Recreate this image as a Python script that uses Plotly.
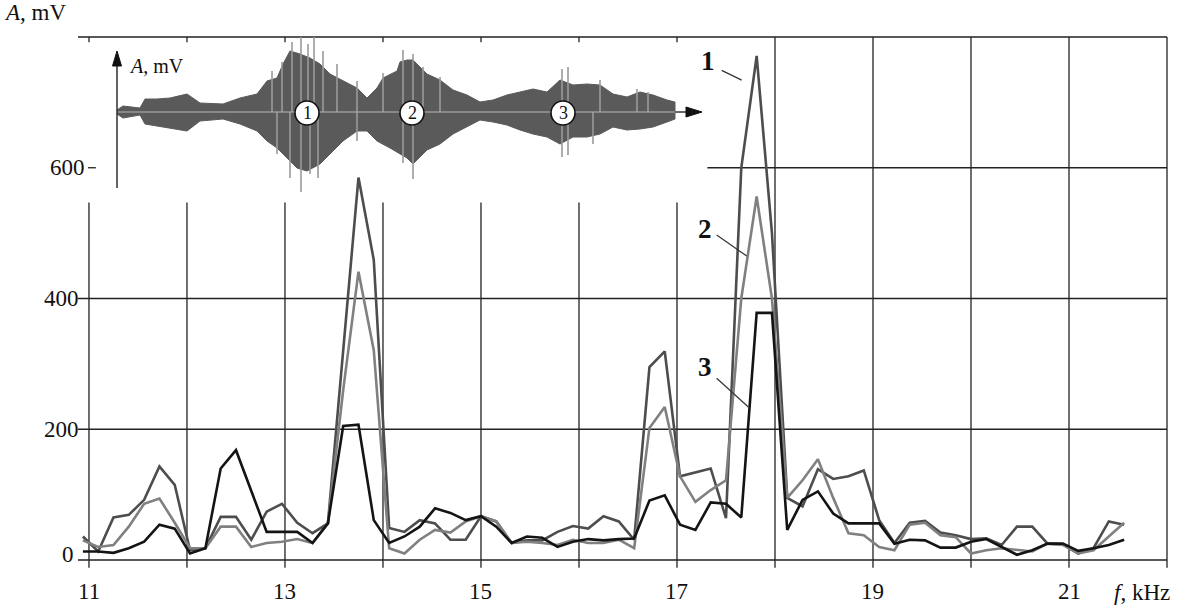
import plotly.graph_objects as go

# ---------------- data ----------------
freq_khz = [10.938, 11.094, 11.250, 11.406, 11.563, 11.719, 11.875, 12.031, 12.188, 12.344,
            12.500, 12.656, 12.813, 12.969, 13.125, 13.281, 13.438, 13.594, 13.750, 13.906,
            14.063, 14.219, 14.375, 14.531, 14.688, 14.844, 15.000, 15.156, 15.313, 15.469,
            15.625, 15.781, 15.938, 16.094, 16.250, 16.406, 16.563, 16.719, 16.875, 17.031,
            17.188, 17.344, 17.500, 17.656, 17.813, 17.969, 18.125, 18.281, 18.438, 18.594,
            18.750, 18.906, 19.063, 19.219, 19.375, 19.531, 19.688, 19.844, 20.000, 20.156,
            20.313, 20.469, 20.625, 20.781, 20.938, 21.094, 21.250, 21.406, 21.563]

amp_1 = [36, 13, 65, 69, 92, 143, 115, 15, 18, 66,
         66, 31, 74, 86, 57, 41, 56, 320, 585, 459,
         49, 43, 61, 56, 31, 31, 67, 59, 26, 30,
         30, 43, 52, 48, 67, 59, 31, 295, 319, 128,
         134, 140, 64, 600, 771, 500, 95, 82, 139, 124,
         128, 137, 61, 26, 57, 60, 42, 38, 32, 33,
         23, 51, 51, 25, 24, 10, 18, 59, 54]

amp_2 = [30, 20, 23, 51, 86, 94, 57, 18, 18, 51,
         51, 20, 26, 28, 32, 26, 56, 260, 441, 321,
         18, 10, 31, 46, 42, 59, 67, 59, 26, 28,
         26, 23, 31, 26, 26, 31, 18, 202, 234, 128,
         89, 107, 122, 400, 556, 400, 95, 122, 154, 95,
         41, 38, 20, 15, 54, 57, 38, 35, 10, 15,
         18, 15, 13, 25, 23, 10, 15, 36, 57]

amp_3 = [13, 13, 11, 18, 28, 54, 48, 10, 18, 140,
         168, 105, 43, 43, 43, 26, 56, 205, 207, 61,
         26, 36, 51, 79, 72, 61, 67, 51, 26, 36,
         34, 20, 28, 32, 30, 32, 33, 91, 99, 54,
         46, 88, 86, 65, 378, 378, 46, 92, 105, 71,
         56, 56, 56, 25, 31, 30, 19, 19, 28, 32,
         20, 8, 15, 25, 25, 14, 18, 23, 31]

x_tick_vals = [11, 13, 15, 17, 19, 21]
x_tick_text = ["11", "13", "15", "17", "19", "21"]
y_tick_vals = [0, 200, 400, 600]
y_tick_text = ["0", "200", "400", "600"]
series_names = ["1", "2", "3"]

# inset oscillogram envelope (time samples, amplitude above / below zero)
wave_up_t = [0, 6, 23, 28, 40, 53, 70, 83, 106, 123, 140, 150, 160, 166, 173, 183, 193,
             203, 213, 226, 240, 250, 260, 266, 280, 283, 290, 296, 310, 323, 336, 350,
             363, 376, 390, 403, 416, 430, 443, 456, 470, 483, 496, 510, 523, 536, 550, 558]
wave_up = [2, 6, 4, 13, 13, 14, 18, 9, 8, 14, 18, 31, 34, 48, 61, 58, 54,
           48, 38, 31, 24, 14, 24, 34, 41, 50, 52, 52, 38, 32, 22, 17,
           10, 12, 17, 20, 23, 20, 32, 27, 28, 27, 18, 15, 20, 17, 12, 10]
wave_dn_t = [0, 6, 23, 28, 40, 70, 83, 106, 123, 140, 150, 160, 170, 180, 190, 203,
             213, 226, 240, 250, 260, 273, 290, 296, 310, 323, 336, 350, 363, 376, 390,
             403, 416, 430, 443, 456, 470, 483, 496, 510, 523, 536, 550, 558]
wave_dn = [2, 6, 3, 12, 14, 19, 9, 7, 12, 19, 29, 36, 46, 56, 59, 52,
           42, 29, 19, 19, 29, 36, 46, 52, 38, 32, 22, 15, 8, 10, 13,
           18, 22, 25, 32, 25, 25, 22, 15, 18, 17, 15, 10, 7]
spike_t = [155, 160, 165, 173, 175, 184, 191, 193, 197, 201, 206, 220, 240, 266,
           286, 296, 306, 323, 445, 451, 476, 483, 520, 531]
spike_up = [41, 0, 50, 0, 70, 76, 68, 0, 80, 0, 61, 48, 31, 39,
            62, 58, 45, 35, 43, 45, 0, 32, 23, 20]
spike_dn = [0, 42, 0, 66, 0, 80, 0, 62, 0, 66, 0, 0, 29, 0,
            51, 67, 0, 0, 45, 43, 32, 0, 0, 0]
wave_marks_t = [190, 295, 446]
wave_marks = ["1", "2", "3"]

# ---------------- styling ----------------
X0, X1 = 10.888, 22.0
Y0, Y1 = 0, 800
SERIF = "Liberation Serif"
GRID = "#222222"
colors = ["#4d4d4d", "#808080", "#141414"]


def xp(f):
    return (f - X0) / (X1 - X0)


def yp(a):
    return (a - Y0) / (Y1 - Y0)


fig = go.Figure()

for name, amp, col in zip(series_names, [amp_1, amp_2, amp_3], colors):
    fig.add_trace(go.Scatter(x=freq_khz, y=amp, mode="lines", name=name,
                             line=dict(color=col, width=2.6), showlegend=False,
                             hoverinfo="skip"))

# inset waveform
poly_x = wave_up_t + wave_dn_t[::-1]
poly_y = wave_up + [-v for v in wave_dn[::-1]]
fig.add_trace(go.Scatter(x=poly_x, y=poly_y, mode="lines", fill="toself",
                         fillcolor="#5a5a5a", line=dict(color="#5a5a5a", width=1),
                         xaxis="x2", yaxis="y2", showlegend=False, hoverinfo="skip"))
sx, sy = [], []
for t, u, d in zip(spike_t, spike_up, spike_dn):
    sx += [t, t, None]
    sy += [-d, u, None]
fig.add_trace(go.Scatter(x=sx, y=sy, mode="lines", line=dict(color="#9a9a9a", width=1.6),
                         xaxis="x2", yaxis="y2", showlegend=False, hoverinfo="skip"))
fig.add_trace(go.Scatter(x=[wave_up_t[0], wave_up_t[-1]], y=[0, 0], mode="lines",
                         line=dict(color="#b5b5b5", width=1.2),
                         xaxis="x2", yaxis="y2", showlegend=False, hoverinfo="skip"))

shapes = []
# vertical grid lines
for f in range(11, 23):
    top = 800 if f >= 18 else 547
    shapes.append(dict(type="line", xref="paper", yref="paper", x0=xp(f), x1=xp(f),
                       y0=yp(-12), y1=yp(top), line=dict(color=GRID, width=1.3), layer="below"))
    if f < 18:
        shapes.append(dict(type="line", xref="paper", yref="paper", x0=xp(f), x1=xp(f),
                           y0=yp(792), y1=yp(800), line=dict(color=GRID, width=1.3), layer="below"))
# horizontal grid lines
for a in [0, 200, 400, 800]:
    shapes.append(dict(type="line", xref="paper", yref="paper", x0=0, x1=1,
                       y0=yp(a), y1=yp(a), line=dict(color=GRID, width=1.3), layer="below"))
shapes.append(dict(type="line", xref="paper", yref="paper", x0=xp(17.31), x1=1,
                   y0=yp(600), y1=yp(600), line=dict(color=GRID, width=1.3), layer="below"))
shapes.append(dict(type="line", xref="paper", yref="paper", x0=xp(10.99), x1=xp(11.07),
                   y0=yp(600), y1=yp(600), line=dict(color=GRID, width=1.3), layer="below"))

# inset axes arrows
shapes.append(dict(type="line", xref="x2", yref="y2", x0=0, x1=572, y0=0, y1=0,
                   line=dict(color="#333333", width=1.4), layer="below"))
shapes.append(dict(type="path", xref="x2", yref="y2",
                   path="M 585,0 L 569,5 L 569,-5 Z", fillcolor="#111111",
                   line=dict(color="#111111", width=1)))
shapes.append(dict(type="line", xref="x2", yref="y2", x0=0, x1=0, y0=-76, y1=48,
                   line=dict(color="#222222", width=1.4)))
shapes.append(dict(type="path", xref="x2", yref="y2",
                   path="M 0,61 L -4.5,46 L 4.5,46 Z", fillcolor="#111111",
                   line=dict(color="#111111", width=1)))
for t in wave_marks_t:
    shapes.append(dict(type="circle", xref="x2", yref="y2", x0=t - 12, x1=t + 12,
                       y0=-13, y1=11, fillcolor="white", line=dict(color="#111111", width=1.6)))

# leader lines for curve labels
for (fa, aa, fb, ab) in [(17.456, 749, 17.660, 734), (17.405, 497, 17.711, 465),
                         (17.405, 278, 17.728, 234)]:
    shapes.append(dict(type="line", xref="x", yref="y", x0=fa, y0=aa, x1=fb, y1=ab,
                       line=dict(color="#333333", width=1.2)))

annotations = []
tick_font = dict(family=SERIF, size=23, color="#111111")
for v, txt in zip(x_tick_vals, x_tick_text):
    annotations.append(dict(x=v, xref="x", y=(560 - 591) / 523, yref="paper", text=txt,
                            showarrow=False, font=tick_font, xanchor="center", yanchor="middle"))
for v, txt in zip(y_tick_vals, y_tick_text):
    if v == 0:
        rx, yy = 76, 9
    elif v == 600:
        rx, yy = 87, v
    else:
        rx, yy = 81, v
    annotations.append(dict(x=(rx - 78) / 1089, xref="paper", y=yy, yref="y", text=txt,
                            showarrow=False, font=tick_font, xanchor="right", yanchor="middle"))
annotations.append(dict(x=(2 - 78) / 1089, xref="paper", y=(560 - 13) / 523, yref="paper",
                        text="<i>A</i>, mV", showarrow=False, font=tick_font,
                        xanchor="left", yanchor="middle"))
annotations.append(dict(x=(1112 - 78) / 1089, xref="paper", y=(560 - 592) / 523, yref="paper",
                        text="<i>f</i>, kHz", showarrow=False, font=tick_font,
                        xanchor="left", yanchor="middle"))
label_font = dict(family=SERIF, size=27, color="#111111")
for txt, (fx, ay) in zip(series_names, [(17.316, 764), (17.286, 507), (17.286, 295)]):
    annotations.append(dict(x=fx, xref="x", y=ay, yref="y", text="<b>" + txt + "</b>",
                            showarrow=False, font=label_font, xanchor="center", yanchor="middle"))
# inset texts
annotations.append(dict(x=10, xref="x2", y=46, yref="y2", text="<i>A</i>, mV", showarrow=False,
                        font=dict(family=SERIF, size=20, color="#111111"),
                        xanchor="left", yanchor="middle"))
for t, txt in zip(wave_marks_t, wave_marks):
    annotations.append(dict(x=t, xref="x2", y=-1, yref="y2", text=txt, showarrow=False,
                            font=dict(family=SERIF, size=18, color="#111111"),
                            xanchor="center", yanchor="middle"))

axis_off = dict(showgrid=False, zeroline=False, showline=False, showticklabels=False,
                ticks="", fixedrange=True)
fig.update_layout(
    width=1200, height=609,
    margin=dict(l=78, r=33, t=37, b=49),
    paper_bgcolor="white", plot_bgcolor="rgba(0,0,0,0)",
    xaxis=dict(range=[X0, X1], **axis_off),
    yaxis=dict(range=[Y0, Y1], **axis_off),
    xaxis2=dict(domain=[(95 - 78) / 1089, (705 - 78) / 1089], range=[-22, 588],
                anchor="y2", **axis_off),
    yaxis2=dict(domain=[(560 - 200) / 523, 1.0], range=[-88, 75], anchor="x2", **axis_off),
    shapes=shapes,
    annotations=annotations,
    showlegend=False,
)

fig.write_html("out.html", config={"displayModeBar": False},
               post_script="document.body.style.margin='0';document.body.style.padding='0';"
                           "document.body.style.overflow='hidden';")
